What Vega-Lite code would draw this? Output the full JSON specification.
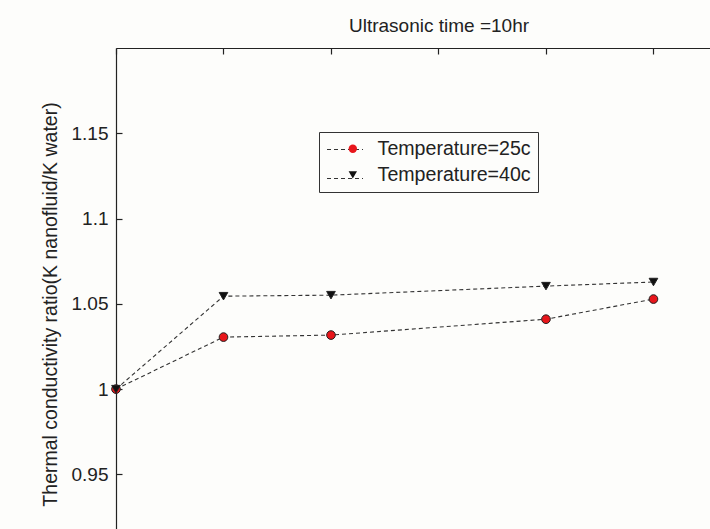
{
  "$schema": "https://vega.github.io/schema/vega-lite/v6.json",
  "width": 594,
  "height": 481,
  "autosize": {"type": "none"},
  "padding": {"left": 116, "top": 48, "right": 0, "bottom": 0},
  "background": "#fdfdfb",
  "title": {"text": "Ultrasonic time =10hr", "fontSize": 19, "font": "Liberation Sans", "fontWeight": "normal", "color": "#222222", "anchor": "middle", "dx": 26, "dy": 19, "offset": 11, "baseline": "bottom"},
  "config": {"view": {"stroke": null}, "font": "Liberation Sans"},
  "data": {"values": [
    {"x": 0, "ratio": 1.0, "series": "Temperature=25c"},
    {"x": 1, "ratio": 1.0305, "series": "Temperature=25c"},
    {"x": 2, "ratio": 1.0317, "series": "Temperature=25c"},
    {"x": 4, "ratio": 1.041, "series": "Temperature=25c"},
    {"x": 5, "ratio": 1.0528, "series": "Temperature=25c"},
    {"x": 0, "ratio": 1.0, "series": "Temperature=40c"},
    {"x": 1, "ratio": 1.0545, "series": "Temperature=40c"},
    {"x": 2, "ratio": 1.0551, "series": "Temperature=40c"},
    {"x": 4, "ratio": 1.0604, "series": "Temperature=40c"},
    {"x": 5, "ratio": 1.0628, "series": "Temperature=40c"}
  ]},
  "encoding": {
    "x": {"field": "x", "type": "quantitative", "scale": {"domain": [0, 5.526], "nice": false, "zero": false},
      "axis": {"orient": "top", "values": [0, 1, 2, 3, 4, 5], "labels": false, "title": null, "tickSize": -6, "grid": false, "domainColor": "#222222", "tickColor": "#222222", "domainWidth": 1.2, "tickWidth": 1.2}},
    "y": {"field": "ratio", "type": "quantitative", "scale": {"domain": [0.918, 1.2], "nice": false, "zero": false},
      "axis": {"values": [0.95, 1, 1.05, 1.1, 1.15], "labelExpr": "'' + datum.value", "tickSize": -6, "labelPadding": 14, "labelFontSize": 19, "labelColor": "#222222", "labelFont": "Liberation Sans", "grid": false,
        "title": "Thermal conductivity ratio(K nanofluid/K water)", "titleFont": "Liberation Sans", "titleFontSize": 19.5, "titleFontWeight": "normal", "titleColor": "#222222", "titleX": -66, "titleY": 256, "titleAngle": -90, "titleAlign": "center", "titleBaseline": "middle",
        "domainColor": "#222222", "tickColor": "#222222", "domainWidth": 1.2, "tickWidth": 1.2}}
  },
  "layer": [
    {
      "mark": {"type": "line", "strokeWidth": 1.1, "color": "#333333"},
      "encoding": {
        "strokeDash": {"field": "series", "type": "nominal",
          "scale": {"domain": ["Temperature=25c", "Temperature=40c"], "range": [[4, 3], [4, 3]]},
          "legend": {"orient": "none", "legendX": 210, "legendY": 82.5, "direction": "vertical", "title": null, "padding": 0,
            "labelFontSize": 19, "labelOpacity": 0, "labelLimit": 300,
            "symbolType": "stroke", "symbolSize": 1296, "symbolStrokeWidth": 1.1, "symbolStrokeColor": "#333333", "rowPadding": -11}
        }
      }
    },
    {
      "mark": {"type": "point", "filled": true, "size": 75, "stroke": "#222222", "strokeWidth": 1, "opacity": 1},
      "encoding": {
        "shape": {"field": "series", "type": "nominal", "scale": {"range": ["circle", "triangle-down"]},
          "legend": {"orient": "none", "legendX": 203, "legendY": 84, "direction": "vertical", "title": null, "padding": 7, "strokeColor": "#333333",
            "labelFontSize": 19.6, "labelFont": "Liberation Sans", "labelColor": "#222222", "labelOffset": 15, "labelLimit": 300,
            "rowPadding": 5, "symbolSize": 70, "symbolOffset": 17, "symbolStrokeColor": "#222222", "symbolStrokeWidth": 1, "symbolOpacity": 1}},
        "fill": {"field": "series", "type": "nominal", "scale": {"range": ["#e8161b", "#111111"]},
          "legend": {"orient": "none", "legendX": 203, "legendY": 84, "direction": "vertical", "title": null, "padding": 7, "strokeColor": "#333333",
            "labelFontSize": 19.6, "labelFont": "Liberation Sans", "labelColor": "#222222", "labelOffset": 15, "labelLimit": 300,
            "rowPadding": 5, "symbolSize": 70, "symbolOffset": 17, "symbolStrokeColor": "#222222", "symbolStrokeWidth": 1, "symbolOpacity": 1}}
      }
    }
  ]
}
